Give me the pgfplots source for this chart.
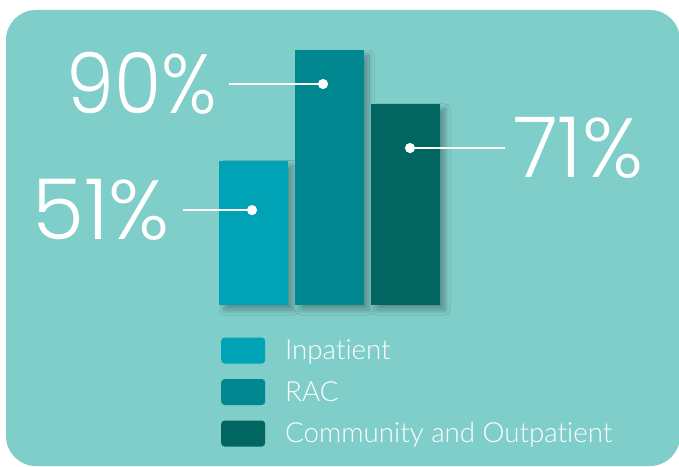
\documentclass[border=0pt]{standalone}
\usepackage{pgfplots}
\pgfplotsset{compat=1.18}
\usepackage{fontspec}
\setmainfont{Lato Light}[Ligatures=NoCommon]
\newfontfamily\numfont{Poppins Light}
\usetikzlibrary{shadows.blur}
\definecolor{bgc}{HTML}{80CEC9}
\definecolor{cin}{HTML}{00A3B5}
\definecolor{crac}{HTML}{00878F}
\definecolor{ccom}{HTML}{00665F}
\begin{document}
\begin{tikzpicture}
\useasboundingbox (0,0) rectangle (679pt,466pt);
\fill[white] (0,0) rectangle (679pt,466pt);
\fill[bgc, rounded corners=30pt] (6pt,0pt) rectangle (680pt,456pt);
\begin{axis}[
  at={(0,0)}, anchor=south west,
  scale only axis, width=679pt, height=466pt,
  xmin=0, xmax=679, ymin=-56.82, ymax=107.65,
  axis lines=none, clip=false,
  legend style={draw=none, fill=none, at={(axis cs:221,-11.4)}, anchor=north west,
    inner sep=0pt, row sep=15.5pt, font=\fontsize{27.7}{30}\selectfont, text=white,
    nodes={inner sep=0pt}},
  legend cell align=left,
  legend image code/.code={\fill[#1, draw=none, rounded corners=3.5pt] (0pt,-13pt) rectangle (44pt,13pt);},
  /tikz/every odd column/.append style={column sep=20pt},
  shadowbar/.style={forget plot, ybar, bar width=69pt, bar shift=0pt, draw=none, fill=none,
    blur shadow={shadow xshift=5pt, shadow yshift=-5pt, shadow blur radius=5pt, shadow opacity=30, shadow blur steps=10}},
]
% shadows
\addplot[shadowbar] coordinates {(253.5,51)};
\addplot[shadowbar] coordinates {(329.5,90)};
\addplot[shadowbar] coordinates {(405.5,71)};
% bars
\addplot[ybar, bar width=69pt, bar shift=0pt, fill=cin, draw=none] coordinates {(253.5,51)};
\addlegendentry{Inpatient}
\addplot[ybar, bar width=69pt, bar shift=0pt, fill=crac, draw=none] coordinates {(329.5,90)};
\addlegendentry{RAC}
\addplot[ybar, bar width=69pt, bar shift=0pt, fill=ccom, draw=none] coordinates {(405.5,71)};
\addlegendentry{Community and Outpatient}
% leader lines
\addplot[forget plot, white, line width=2pt, mark=*, mark size=4pt, mark indices={2}, mark options={fill=white}]
  coordinates {(229,78.0) (323,78.0)};
\addplot[forget plot, white, line width=2pt, mark=*, mark size=4pt, mark indices={2}, mark options={fill=white}]
  coordinates {(183,33.5) (252,33.5)};
\addplot[forget plot, white, line width=2pt, mark=*, mark size=4pt, mark indices={1}, mark options={fill=white}]
  coordinates {(410,55.4) (505,55.4)};
\node[anchor=east, inner sep=0pt, text=white, xscale=0.91, font=\numfont\fontsize{84}{84}\selectfont] at (axis cs:217,78.3) {90\%};
\node[anchor=east, inner sep=0pt, text=white, font=\numfont\fontsize{84}{84}\selectfont] at (axis cs:170,33.5) {51\%};
\node[anchor=west, inner sep=0pt, text=white, font=\numfont\fontsize{84}{84}\selectfont] at (axis cs:513,55.4) {71\%};
\end{axis}
\end{tikzpicture}
\end{document}
